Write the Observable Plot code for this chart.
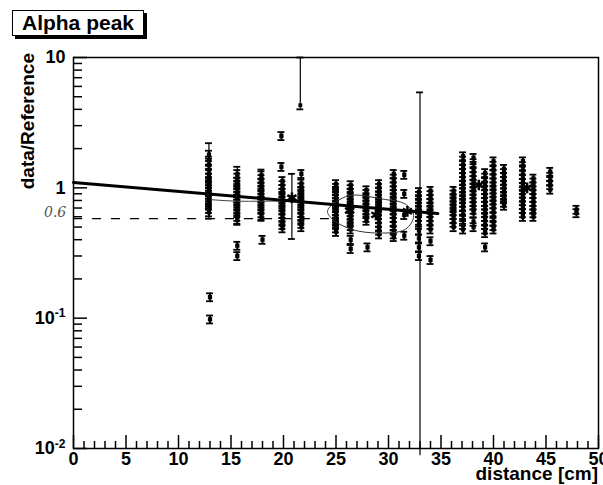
<!DOCTYPE html>
<html><head><meta charset="utf-8">
<script src="https://cdn.jsdelivr.net/npm/d3@7"></script>
<script src="https://cdn.jsdelivr.net/npm/@observablehq/plot@0.6"></script>
<style>
body{margin:0;background:#fff;}
#wrap{position:relative;width:603px;height:485px;font-family:"Liberation Sans",Arial,sans-serif;font-weight:bold;color:#000;}
#wrap svg{position:absolute;left:0;top:0;}
#title{position:absolute;left:12px;top:10px;width:132px;height:26px;box-sizing:border-box;border:1.5px solid #000;box-shadow:3px 3px 0 #000;background:#fff;font-size:21px;line-height:24px;text-align:center;}
#ylab{position:absolute;left:-42px;top:112px;width:140px;height:22px;font-size:19px;line-height:22px;text-align:right;transform:rotate(-90deg);transform-origin:50% 50%;}
#xlab{position:absolute;right:5px;top:463px;font-size:19px;line-height:21px;}
#note{position:absolute;left:44px;top:204px;font-family:"DejaVu Serif",serif;font-style:italic;font-weight:normal;font-size:14px;color:#555;}
</style></head><body>
<div id="wrap"></div>
<script>
// ---- data ----
const clusterX = [12.9, 15.6, 17.9, 19.9, 21.7, 25.0, 26.4, 27.9, 29.1, 30.5, 32.9, 34.0, 36.2, 37.1, 38.1, 39.2, 40.0, 41.0, 42.8, 43.8, 45.4, 47.9];
const clusterRatios = [
  [1.80, 1.62, 1.50, 1.38, 1.28, 1.20, 1.13, 1.07, 1.02, 0.97, 0.93, 0.89, 0.85, 0.81, 0.77, 0.73, 0.69, 0.65],
  [1.28, 1.20, 1.12, 1.06, 1.00, 0.95, 0.91, 0.87, 0.83, 0.80, 0.76, 0.72, 0.68, 0.64, 0.60, 0.57],
  [1.25, 1.17, 1.10, 1.03, 0.97, 0.92, 0.88, 0.84, 0.80, 0.76, 0.72, 0.68, 0.64, 0.60],
  [1.13, 1.05, 0.98, 0.92, 0.87, 0.83, 0.79, 0.75, 0.71, 0.67, 0.63, 0.59, 0.55, 0.52, 0.49],
  [1.28, 1.08, 1.01, 0.95, 0.90, 0.85, 0.80, 0.76, 0.72, 0.68, 0.64, 0.60, 0.56, 0.53, 0.50],
  [1.07, 1.00, 0.95, 0.90, 0.86, 0.82, 0.78, 0.74, 0.70, 0.66, 0.62, 0.58, 0.55, 0.52, 0.49, 0.46],
  [1.05, 0.98, 0.92, 0.87, 0.82, 0.77, 0.73, 0.69, 0.65, 0.61, 0.57, 0.54, 0.51, 0.48],
  [0.96, 0.90, 0.85, 0.80, 0.75, 0.71, 0.67, 0.63, 0.59, 0.56],
  [1.07, 1.00, 0.94, 0.88, 0.83, 0.78, 0.74, 0.70, 0.66, 0.62, 0.58, 0.54, 0.50, 0.47, 0.44],
  [1.28, 1.18, 1.10, 1.03, 0.96, 0.90, 0.85, 0.80, 0.75, 0.71, 0.67, 0.63, 0.59, 0.55, 0.51, 0.47, 0.44, 0.42],
  [0.93, 0.87, 0.82, 0.77, 0.72, 0.68, 0.64, 0.60, 0.56, 0.52, 0.47, 0.41, 0.35, 0.30],
  [0.95, 0.88, 0.82, 0.77, 0.72, 0.68, 0.64, 0.60, 0.56, 0.52, 0.48],
  [0.95, 0.89, 0.84, 0.79, 0.74, 0.70, 0.66, 0.62, 0.58, 0.54, 0.50],
  [1.75, 1.62, 1.50, 1.40, 1.30, 1.21, 1.13, 1.06, 0.99, 0.93, 0.87, 0.82, 0.77, 0.72, 0.67, 0.62, 0.57, 0.52, 0.48],
  [1.70, 1.55, 1.42, 1.32, 1.23, 1.15, 1.08, 1.01, 0.95, 0.89, 0.83, 0.78, 0.73, 0.68, 0.64, 0.55, 0.50],
  [1.30, 1.20, 1.11, 1.03, 0.96, 0.90, 0.84, 0.78, 0.73, 0.68, 0.64, 0.60, 0.56, 0.52, 0.48, 0.45],
  [1.60, 1.48, 1.37, 1.27, 1.18, 1.10, 1.03, 0.97, 0.91, 0.85, 0.80, 0.75, 0.70, 0.65, 0.60, 0.55, 0.51, 0.48],
  [1.40, 1.30, 1.21, 1.13, 1.06, 0.99, 0.93, 0.87, 0.82, 0.77, 0.73],
  [1.60, 1.47, 1.36, 1.26, 1.17, 1.09, 1.02, 0.96, 0.90, 0.84, 0.79, 0.74, 0.69, 0.64, 0.60],
  [1.18, 1.10, 1.03, 0.96, 0.90, 0.84, 0.78, 0.73, 0.68, 0.64, 0.60],
  [1.33, 1.22, 1.13, 1.05, 0.97],
  [0.68, 0.64]
];
const outX = [13.0, 13.0, 15.6, 15.6, 18.0, 19.8, 19.8, 26.4, 26.4, 28.0, 31.5, 31.5, 31.5, 31.5, 34.0, 34.0, 39.2];
const outY = [0.145, 0.098, 0.36, 0.30, 0.40, 2.5, 1.45, 0.40, 0.34, 0.35, 1.26, 0.90, 0.62, 0.43, 0.39, 0.28, 0.35];
const wideX  = [12.9, 15.6, 17.9, 20.8, 21.6, 33.0];
const wideY  = [0.95, 0.90, 0.90, 0.84, 4.3, 0.62];
const wideLo = [0.58, 0.52, 0.57, 0.405, 4.0, 0.0088];
const wideHi = [2.2, 1.45, 1.38, 1.28, 10, 5.4];
const starX = [20.8, 26.3, 28.8, 31.8, 38.6, 43.2];
const starY = [0.84, 0.67, 0.62, 0.66, 1.05, 1.0];
const fitX = [0, 34.7];
const fitY = [1.10, 0.635];
const refX = [0, 25];
const refY = [0.58, 0.58];
const noteX = [13.2, 15.5, 17.8, 19.8];
const noteY = [0.81, 0.79, 0.79, 0.79];
const ringX = [24.2, 26.2, 29.4, 31.6, 32.4, 31.6, 29.1, 26.5, 24.6];
const ringY = [0.67, 0.87, 0.82, 0.75, 0.61, 0.48, 0.45, 0.48, 0.58];
const xMajor = [0, 5, 10, 15, 20, 25, 30, 35, 40, 45, 50];
const xMinor = d3.range(0, 51).filter(v => v % 5 !== 0);
const yMajor = [0.01, 0.1, 1, 10];
const yTickLabels = ["10^-2", "10^-1", "1", "10"];
const yMinor = [0.01, 0.1, 1].flatMap(d => [2,3,4,5,6,7,8,9].map(k => k * d));

// ---- build ----
const pts = clusterX.flatMap((x, i) => clusterRatios[i].map(r => ({x, r})))
  .concat(outX.map((x, i) => ({x, r: outY[i]})));
const wide = wideX.map((x, i) => ({x, r: wideY[i], lo: wideLo[i], hi: wideHi[i]}));
const E = 0.07, CAP = 0.33;
const tbl = (X, Y) => X.map((x, i) => ({x, y: Y[i]}));

const chart = Plot.plot({
  width: 603, height: 485,
  marginLeft: 73, marginRight: 5, marginTop: 57, marginBottom: 37,
  x: {domain: [0, 50], label: null},
  y: {type: "log", domain: [0.01, 10], label: null},
  style: {fontFamily: "Liberation Sans, Arial, sans-serif", background: "white", color: "black", overflow: "visible"},
  marks: [
    Plot.ruleX(pts, {x: "x", y1: d => d.r * (1 - E), y2: d => d.r * (1 + E), strokeWidth: 2}),
    Plot.ruleY(pts, {y: d => d.r * (1 - E), x1: d => d.x - CAP, x2: d => d.x + CAP, strokeWidth: 1.8}),
    Plot.ruleY(pts, {y: d => d.r * (1 + E), x1: d => d.x - CAP, x2: d => d.x + CAP, strokeWidth: 1.8}),
    Plot.dot(pts, {x: "x", y: "r", symbol: "square", r: 2.4, fill: "black"}),
    Plot.ruleX(wide, {x: "x", y1: "lo", y2: "hi", strokeWidth: 1.2}),
    Plot.ruleY(wide, {y: "hi", x1: d => d.x - CAP, x2: d => d.x + CAP, strokeWidth: 1.8}),
    Plot.ruleY(wide.filter(d => d.lo > 0.01), {y: "lo", x1: d => d.x - CAP, x2: d => d.x + CAP, strokeWidth: 1.8}),
    Plot.dot(wide, {x: "x", y: "r", symbol: "square", r: 2.2, fill: "black"}),
    Plot.line(tbl(refX, refY), {x: "x", y: "y", stroke: "black", strokeWidth: 1.4, strokeDasharray: "8,11"}),
    Plot.line(tbl(noteX, noteY), {x: "x", y: "y", stroke: "#444", strokeWidth: 1, curve: "natural"}),
    Plot.line(tbl(ringX, ringY), {x: "x", y: "y", stroke: "#333", strokeWidth: 1, curve: "catmull-rom-closed"}),
    Plot.line(tbl(fitX, fitY), {x: "x", y: "y", stroke: "black", strokeWidth: 3}),
    Plot.dot(tbl(starX, starY), {x: "x", y: "y", symbol: "asterisk", r: 5, stroke: "black", strokeWidth: 2.5}),
    Plot.frame({stroke: "black", strokeWidth: 1.5}),
    Plot.axisX(xMajor, {tickSize: -13, strokeWidth: 1.5, fill: "none"}),
    Plot.axisX(xMinor, {tickSize: -7, strokeWidth: 1.5, fill: "none"}),
    Plot.axisX(xMajor, {tickSize: 0, tickPadding: 4, fontSize: 18, fontWeight: "bold", fill: "black", tickFormat: d => String(d)}),
    Plot.axisY(yMajor, {tickSize: -14, strokeWidth: 1.5, fill: "none"}),
    Plot.axisY(yMinor, {tickSize: -9, strokeWidth: 1.5, fill: "none"}),
    Plot.axisY(yMajor, {tickSize: 0, tickPadding: 8, fontSize: 18, fontWeight: "bold", fill: "black",
      tickFormat: d => yTickLabels[yMajor.indexOf(d)]})
  ]
});

// superscript exponents in y tick labels
chart.querySelectorAll("text").forEach(t => {
  const s = t.textContent;
  if (s.includes("^")) {
    const [b, e] = s.split("^");
    t.textContent = "";
    const ns = "http://www.w3.org/2000/svg";
    const t1 = document.createElementNS(ns, "tspan"); t1.textContent = b;
    const t2 = document.createElementNS(ns, "tspan"); t2.textContent = e;
    t2.setAttribute("dy", "-0.55em"); t2.setAttribute("font-size", "12");
    t.appendChild(t1); t.appendChild(t2);
  }
});

const wrap = document.getElementById("wrap");
wrap.appendChild(chart);
wrap.insertAdjacentHTML("beforeend",
  '<div id="title">Alpha peak</div><div id="ylab">data/Reference</div><div id="xlab">distance [cm]</div><div id="note">0.6</div>');
</script>
</body></html>
